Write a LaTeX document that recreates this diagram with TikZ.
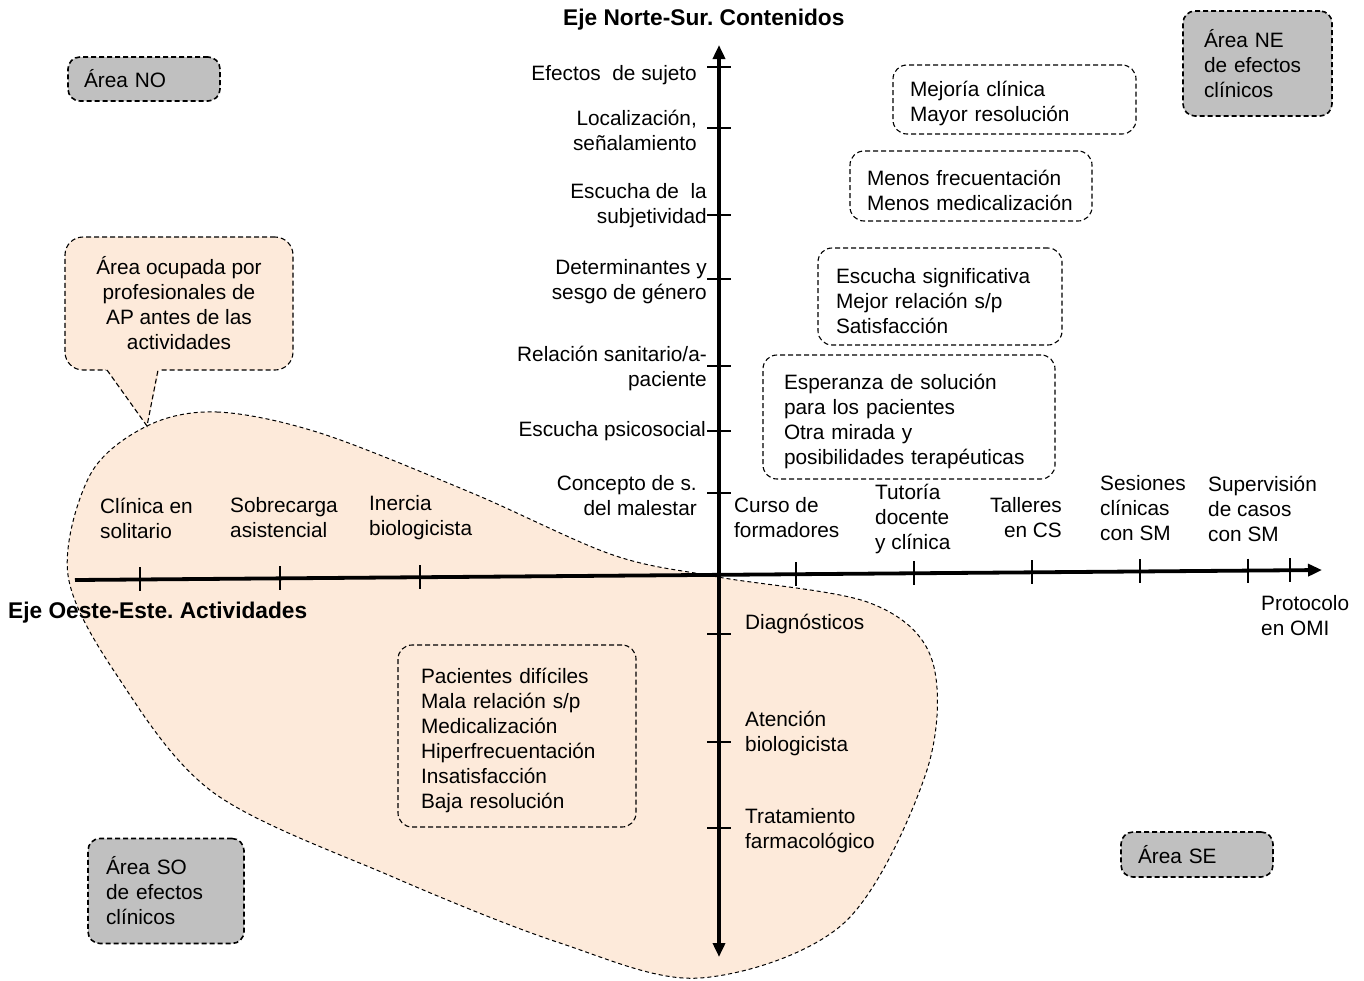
\documentclass[tikz,border=0pt]{standalone}
\usepackage{fontspec}
\setmainfont{Liberation Sans}
\usetikzlibrary{arrows.meta}
\definecolor{peach}{RGB}{253,234,218}
\definecolor{areagray}{RGB}{192,192,192}
\frenchspacing

\begin{document}
\begin{tikzpicture}[x=1pt,y=-1pt,
  every node/.style={inner sep=0pt, font=\fontsize{20.8}{25}\selectfont},
  lbl/.style={align=left, anchor=west},
  lblr/.style={align=right, anchor=east},
  axistitle/.style={anchor=west, font=\fontsize{22.7}{27}\selectfont\bfseries},
  dashline/.style={dash pattern=on 5pt off 3pt, line width=1.1pt},
  effbox/.style={draw, dashline, rounded corners=14pt, align=left, inner ysep=0pt,
                 execute at begin node={\rule{0pt}{24pt}}},
  areabox/.style={draw, fill=areagray, dash pattern=on 5pt off 3pt, line width=1.6pt,
                  rounded corners=12pt, align=left, inner ysep=0pt},
  axisline/.style={line width=3.8pt},
  bothtips/.style={{Triangle[length=14pt,width=12pt]}-{Triangle[length=14pt,width=12pt]}},
  endtip/.style={-{Triangle[length=14pt,width=12pt]}},
  tickline/.style={line width=1.3pt}]

\useasboundingbox (0,0) rectangle (1364,980);

% occupied area
\draw[fill=peach, dash pattern=on 4pt off 3pt, line width=1pt]
  plot[smooth cycle, tension=0.55] coordinates {
    (147,426) (217,412) (320,433) (472,493) (613,555) (718,577)
    (870,603) (932,660) (926,773) (844,923) (700,978) (560,943)
    (393,877) (214,793) (118,677) (68,575) (90,475)};

% callout
\node[draw, dashline, fill=peach, rounded corners=18pt, minimum width=228pt,
      minimum height=133pt, align=center] (callout) at (179,303.5)
  {Área ocupada por\\profesionales de\\AP antes de las\\actividades};
\coordinate (tip) at (147,426);
\coordinate (pl) at (107,370);
\coordinate (pr) at (158,370);
\fill[peach] (105,368) -- (tip) -- (160,368) -- cycle;
\draw[dashline] (pl) -- (tip) -- (pr);

% effect boxes
\node[effbox, text width=209pt, inner xsep=17pt, minimum height=69pt] (b1) at (1014.5,99.5)
  {Mejoría clínica\\Mayor resolución};
\node[effbox, text width=208pt, inner xsep=17pt, minimum height=70pt] (b2) at (971,186)
  {Menos frecuentación\\Menos medicalización};
\node[effbox, text width=208pt, inner xsep=18pt, minimum height=97pt] (b3) at (940,296.5)
  {Escucha significativa\\Mejor relación s/p\\Satisfacción};
\node[effbox, text width=250pt, inner xsep=21pt, minimum height=124pt] (b4) at (909,417)
  {Esperanza de solución\\para los pacientes\\Otra mirada y\\posibilidades terapéuticas};
\node[effbox, text width=192pt, inner xsep=23pt, minimum height=182pt] (b5) at (517,736)
  {Pacientes difíciles\\Mala relación s/p\\Medicalización\\Hiperfrecuentación\\Insatisfacción\\Baja resolución};

% area boxes
\node[areabox, text width=120pt, inner xsep=16pt, minimum height=44pt] (ano) at (144,79) {Área NO};
\node[areabox, text width=107pt, inner xsep=21pt, minimum height=105pt] (ane) at (1257.5,63.5)
  {Área NE\\de efectos\\clínicos};
\node[areabox, text width=120pt, inner xsep=18pt, minimum height=105pt] (aso) at (166,891)
  {Área SO\\de efectos\\clínicos};
\node[areabox, text width=118pt, inner xsep=17pt, minimum height=45pt] (ase) at (1197,854.5) {Área SE};

% axes
\coordinate (vt) at (719,45);
\coordinate (vb) at (719,957);
\coordinate (hl) at (75,580);
\coordinate (hr) at (1322,570);
\draw[axisline, bothtips] (vb) -- (vt);
\draw[axisline, endtip] (hl) -- (hr);

\foreach \x in {140,280,420,796,914,1032,1140,1248,1290} {
  \pgfmathsetmacro\yy{580-10*(\x-75)/1247}
  \draw[tickline] (\x,\yy-12) -- (\x,\yy+12);
}
\foreach \y in {67,128,215,279,366,431,493,634,742,828} {
  \draw[tickline] (707,\y) -- (731,\y);
}

% axis titles
\node[axistitle] (tns) at (563,20) {Eje Norte-Sur. Contenidos};
\node[axistitle] (toe) at (8,613) {Eje Oeste-Este. Actividades};

% north labels
\node[lblr] (n1) at (697,75) {Efectos\ \ de sujeto};
\node[lblr] (n2) at (697,130.5) {Localización,\\señalamiento};
\node[lblr] (n3) at (707,206) {Escucha de\ \ la\\subjetividad};
\node[lblr] (n4) at (707,282) {Determinantes y\\sesgo de género};
\node[lblr] (n5) at (707,368) {Relación sanitario/a-\\paciente};
\node[lblr] (n6) at (706,431) {Escucha psicosocial};
\node[lblr] (n7) at (697,496) {Concepto de s.\\del malestar};

% south labels
\node[lbl] (s1) at (745,624) {Diagnósticos};
\node[lbl] (s2) at (745,733.5) {Atención\\biologicista};
\node[lbl] (s3) at (745,830.5) {Tratamiento\\farmacológico};

% west labels
\node[lbl] (w1) at (100,518) {Clínica en\\solitario};
\node[lbl] (w2) at (230,518) {Sobrecarga\\asistencial};
\node[lbl] (w3) at (369,518) {Inercia\\biologicista};

% east labels
\node[lbl] (e1) at (734,518) {Curso de\\formadores};
\node[lbl] (e2) at (875,519) {Tutoría\\docente\\y clínica};
\node[lblr] (e3) at (1062,518) {Talleres\\en CS};
\node[lbl] (e4) at (1100,508.5) {Sesiones\\clínicas\\con SM};
\node[lbl] (e5) at (1208,508.5) {Supervisión\\de casos\\con SM};
\node[lbl] (e6) at (1261,615.5) {Protocolo\\en OMI};

\end{tikzpicture}
\end{document}
